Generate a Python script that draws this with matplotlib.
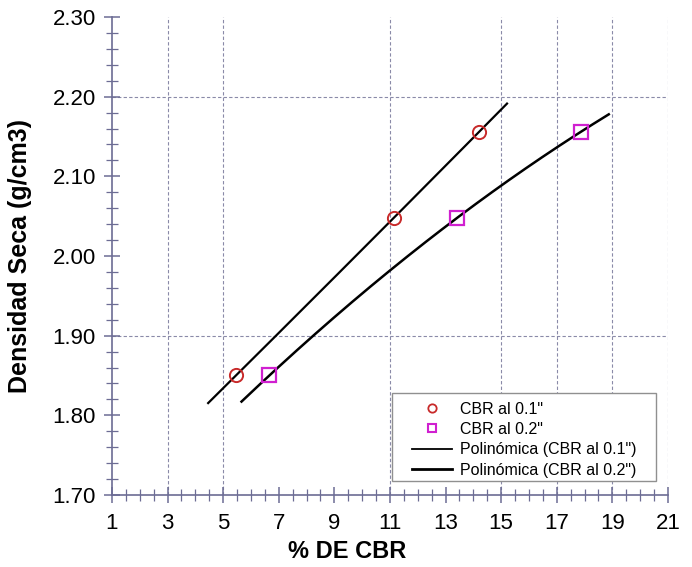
import numpy as np
import matplotlib
matplotlib.use("Agg")
import matplotlib.pyplot as plt
from matplotlib.lines import Line2D
from matplotlib.patches import Rectangle
from matplotlib.ticker import MultipleLocator, FixedLocator

plt.rcParams['font.family'] = ['Liberation Sans', 'DejaVu Sans']

# CBR test results
cbr_01 = [5.46, 11.14, 14.21]      # % CBR at 0.1"
cbr_02 = [6.66, 13.42, 17.87]      # % CBR at 0.2"
densidad = [1.850, 2.048, 2.156]   # dry density (g/cm3)

x_ticks = [1, 3, 5, 7, 9, 11, 13, 15, 17, 19, 21]
y_ticks = [1.70, 1.80, 1.90, 2.00, 2.10, 2.20, 2.30]
x_grid = [3, 5, 11, 15, 17, 19, 21]
y_grid = [1.90, 2.20]

labels = ['CBR al 0.1"', 'CBR al 0.2"',
          'Polinómica (CBR al 0.1")', 'Polinómica (CBR al 0.2")']

axis_col = '#6c6c94'
grid_col = '#8a8aa8'
red = '#c82a2a'
mag = '#d020d0'

fig = plt.figure(figsize=(6.92, 5.67), dpi=100)
ax = fig.add_axes([0.1618, 0.127, 0.8035, 0.843])

ax.set_xlim(1, 21)
ax.set_ylim(1.70, 2.30)

for gx in x_grid:
    ax.axvline(gx, color=grid_col, lw=0.8, ls=(0, (3, 2)), zorder=0)
for gy in y_grid:
    ax.axhline(gy, color=grid_col, lw=0.8, ls=(0, (3, 2)), zorder=0)

# 2nd-order polynomial trendlines, extended one unit on each side
def trend(x, y, lw):
    c = np.polyfit(x, y, 2)
    xs = np.linspace(min(x) - 1.0, max(x) + 1.0, 200)
    ax.plot(xs, np.polyval(c, xs), color='black', lw=lw, zorder=2)

trend(cbr_01, densidad, 1.6)
trend(cbr_02, densidad, 1.8)

ax.plot(cbr_01, densidad, ls='none', marker='o', ms=9.5, mfc='none',
        mec=red, mew=1.4, zorder=3)
ax.plot(cbr_02, densidad, ls='none', marker='s', ms=9.5, mfc='none',
        mec=mag, mew=1.6, zorder=3)

for s in ['top', 'right']:
    ax.spines[s].set_visible(False)
for s in ['left', 'bottom']:
    ax.spines[s].set_color(axis_col)
    ax.spines[s].set_linewidth(1.2)

ax.xaxis.set_major_locator(FixedLocator(x_ticks))
ax.yaxis.set_major_locator(FixedLocator(y_ticks))
ax.xaxis.set_minor_locator(MultipleLocator(0.5))
ax.yaxis.set_minor_locator(MultipleLocator(0.02))
ax.set_xticklabels([str(v) for v in x_ticks])
ax.set_yticklabels([f"{v:.2f}" for v in y_ticks])

ax.tick_params(which='major', direction='inout', length=11, width=1.1,
               color=axis_col, labelsize=16, pad=7.5)
ax.tick_params(which='minor', direction='inout', length=9, width=0.9,
               color=axis_col)
ax.tick_params(axis='y', which='major', pad=6)

ax.set_xlabel('% DE CBR', fontsize=17, fontweight='bold', va='center')
ax.xaxis.set_label_coords(0.423, -0.119)
ax.set_ylabel('Densidad Seca (g/cm3)', fontsize=18, fontweight='bold',
              va='center')
ax.yaxis.set_label_coords(-0.165, 0.50)

# legend box: white panel with a grey border, entries laid over it
ax.add_patch(Rectangle((0.5036, 0.029), 0.4748, 0.184, transform=ax.transAxes,
                       facecolor='white', edgecolor='#909090', lw=1.0,
                       zorder=4))
handles = [
    Line2D([], [], ls='none', marker='o', ms=6, mfc='none', mec=red, mew=1.3),
    Line2D([], [], ls='none', marker='s', ms=6, mfc='none', mec=mag, mew=1.5),
    Line2D([], [], color='black', lw=1.3),
    Line2D([], [], color='black', lw=2.0),
]
leg = ax.legend(handles, labels, loc='upper left',
                bbox_to_anchor=(0.5396, 0.195), fontsize=11.5,
                frameon=False, handlelength=2.5, handletextpad=0.5,
                labelspacing=0.33, borderpad=0, borderaxespad=0)
leg.set_zorder(5)

fig.savefig('out.png', dpi=100)
